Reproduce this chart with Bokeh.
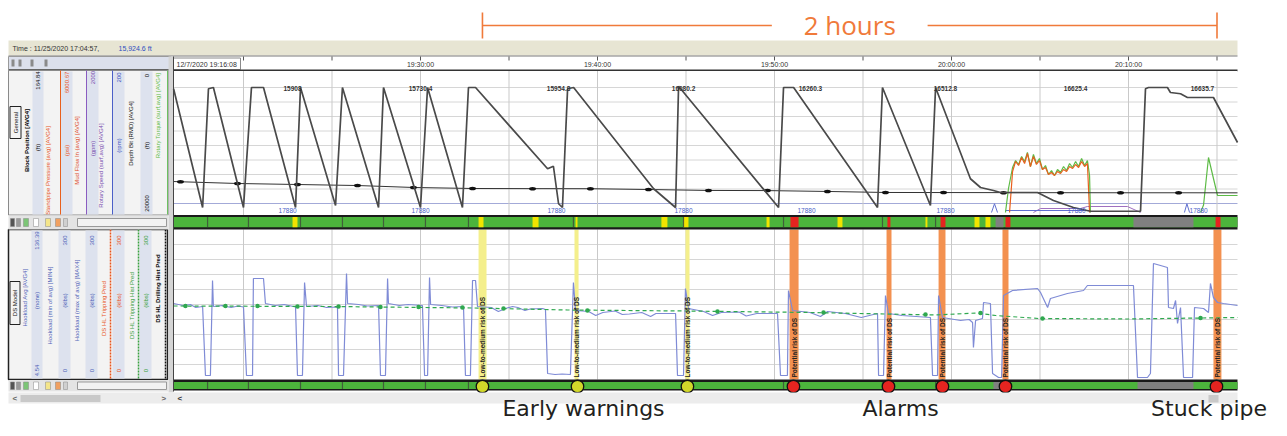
import math
from bokeh.plotting import figure
from bokeh.models import Range1d
from bokeh.core.properties import value
from bokeh.embed import file_html
from bokeh.resources import INLINE

NaN = float("nan")
FONT = "Liberation Sans"
LABEL_FONT = "DejaVu Sans"
SPAN_FONT = "Open Sans"

# ------------------------------------------------------------------ data
# time axis: minutes after 19:00 on 12/7/2020
time_label_minutes = [30, 40, 50, 60, 70]
time_label_text = ["19:30:00", "19:40:00", "19:50:00", "20:00:00", "20:10:00"]
start_time_label = "12/7/2020 19:16:08"
grid_minutes = [20, 25, 30, 35, 40, 45, 50, 55, 60, 65, 70, 75]

# block position (ft)
block_t = [16.05, 17.69, 18.02, 18.30, 20.00, 20.45, 21.13, 22.94, 23.22, 25.20, 25.59, 27.63,
           27.91, 30.00, 30.40, 32.37, 32.71, 33.11, 37.18, 37.51, 37.80, 38.02, 38.31, 38.65,
           43.17, 44.41, 44.58, 50.23, 50.51, 51.08, 55.82, 56.10, 58.81, 59.10, 61.07, 61.64,
           62.37, 62.77, 64.86, 65.76, 66.89, 67.85, 70.68, 70.96, 71.13, 72.20, 72.37, 72.94,
           73.33, 74.80, 76.16]
block_ft = [99, 4, 99, 100, 4, 100, 100, 4, 100, 5.6, 100, 4,
            100, 4, 100, 4, 100, 100, 35, 37, 7, 4, 99, 100,
            19, 4, 101, 4, 100, 100, 4, 100, 5.6, 100, 27, 20,
            17.6, 16, 16, 9.6, 4, 1, 1, 99, 100, 100, 96, 95,
            92, 92, 56]

# depth bit (ft)
bit_t = [16.05, 19.66, 23.05, 26.44, 29.60, 32.94, 36.33, 39.60, 42.88, 46.27, 49.60, 52.99,
         56.27, 59.55, 62.94, 66.16, 69.55, 72.83, 76.16]
bit_ft = [14970, 15240, 15380, 15520, 15790, 15930, 15950, 15960, 16070, 16200, 16220, 16340,
          16480, 16490, 16500, 16510, 16520, 16520, 16530]
bit_marker_t = [16.44, 19.66, 23.05, 26.44, 29.60, 32.94, 36.33, 39.60, 42.88, 46.27, 49.60,
                52.99, 56.27, 59.55, 62.94, 66.16, 69.55, 72.83]
bit_marker_ft = [14990, 15240, 15380, 15520, 15790, 15930, 15950, 15960, 16070, 16200, 16220,
                 16340, 16480, 16490, 16500, 16510, 16520, 16520]

# standpipe pressure (psi)
spp_t = [63.28, 63.45, 63.62, 63.79, 63.96, 64.13, 64.29, 64.46, 64.63, 64.80, 64.97, 65.14,
         65.31, 65.48, 65.65, 65.82, 65.99, 66.16, 66.33, 66.50, 66.67, 66.84, 67.01, 67.18,
         67.35, 67.52, 67.68, 67.80]
spp_psi = [0, 1640, 2040, 1880, 2200, 1960, 2360, 1840, 2240, 1920, 2080, 1720,
           1800, 1520, 1600, 1480, 1640, 1560, 1720, 1640, 1840, 1760, 1920, 1800,
           2040, 1840, 1960, 0]

# rotary torque (kft-lbf)
torque_t = [63.05, 63.22, 63.45, 63.62, 63.79, 63.96, 64.13, 64.29, 64.46, 64.63, 64.80, 64.97,
            65.14, 65.31, 65.48, 65.65, 65.82, 65.99, 66.16, 66.33, 66.50, 66.67, 66.84, 67.01,
            67.18, 67.35, 67.52, 67.68, 67.80, 67.85, NaN, 74.07, 74.24, 74.52, 74.80, 75.03, 76.16]
torque_k = [0, 9.6, 18.0, 20.8, 19.2, 22.4, 20.4, 24.0, 18.4, 23.2, 19.6, 21.6,
            17.2, 18.8, 15.2, 16.8, 14.8, 17.2, 16.0, 18.4, 16.8, 19.6, 18.0, 20.4,
            18.4, 21.6, 18.8, 20.8, 14.8, 0, NaN, 0, 3.0, 22.0, 13.6, 6.8, 6.8]

# rotary speed (rpm)
rpm_t = [64.63, 65.03, 67.29, 67.68, 69.94, 70.68]
rpm_v = [0, 6.4, 6.4, 9.6, 9.6, 0]

# mud flow out trace (blue)
flow_t = [62.26, 62.43, 62.60, NaN, 63.05, 67.85, NaN, 73.16, 73.30, 73.45]
flow_v = [0, 14, 0, NaN, 3.2, 3.2, NaN, 0, 14, 0]

# hookload average (klbs)
hook_t = [16.05, 16.6, 17.0, 17.3, 17.69, 17.85, 18.13, 18.25, 18.30, 18.8, 19.3, 19.7,
          20.00, 20.17, 20.51, 20.56, 21.13, 21.24, 21.8, 22.3, 22.94, 23.05, 23.33, 23.45,
          23.56, 24.2, 24.7, 25.31, 25.37, 25.65, 25.82, 25.88, 26.5, 27.0, 27.63, 27.74,
          28.02, 28.14, 28.19, 28.8, 29.3, 30.11, 30.23, 30.40, 30.51, 30.57, 31.2, 31.8,
          32.43, 32.54, 32.82, 32.94, 33.11, 33.22, 34.0, 34.4, 34.8, 35.2, 35.5, 35.9,
          36.2, 36.9, 37.06, 37.18, 37.6, 38.0, 38.47, 38.64, 38.76, 39.5, 39.9, 40.3,
          41.0, 41.4, 41.8, 42.5, 43.0, 43.3, 44.41, 44.52, 44.86, 44.97, 45.14, 46.0,
          46.5, 47.0, 48.0, 48.4, 49.0, 50.17, 50.34, 50.73, 50.79, 51.02, 52.0, 52.6,
          53.0, 54.0, 54.9, 55.82, 55.88, 56.16, 56.27, 56.44, 57.2, 58.0, 58.81, 58.93,
          59.21, 59.27, 59.49, 60.51, 61.0, 61.19, 61.24, 61.36, 61.75, 61.81, 62.20, 62.32,
          62.66, 62.83, 62.94, 63.45, 64.86, 65.03, 65.43, 65.59, 66.55, 67.46, 67.68, 70.28,
          70.51, 71.07, 71.24, 71.41, 71.81, 72.20, 72.26, 72.54, 72.66, 72.77, 72.94, 73.11,
          73.62, 73.73, 74.24, 74.52, 74.63, 74.80, 75.03, 75.37, 76.16]
hook_klbs = [152, 148, 150, 144, 146, 8, 8, 198, 146, 148, 144, 147,
             145, 8, 8, 202, 202, 152, 148, 150, 145, 8, 8, 194,
             146, 148, 144, 145, 8, 8, 212, 152, 150, 147, 148, 8,
             8, 202, 152, 148, 150, 148, 8, 8, 204, 150, 148, 145,
             146, 8, 8, 198, 198, 146, 144, 136, 142, 146, 144, 138,
             141, 142, 140, 12, 10, 11, 10, 194, 138, 136, 128, 134,
             137, 130, 131, 134, 126, 132, 132, 8, 8, 182, 142, 136,
             128, 134, 135, 127, 132, 132, 8, 8, 178, 138, 134, 126,
             136, 132, 124, 132, 8, 8, 168, 132, 128, 126, 124, 8,
             8, 168, 124, 118, 120, 114, 64, 118, 122, 154, 152, 12,
             4, 4, 168, 178, 182, 174, 144, 162, 172, 178, 188, 188,
             4, 4, 12, 232, 228, 224, 144, 142, 158, 112, 144, 4,
             4, 144, 142, 134, 192, 164, 154, 152, 148]

# DS model hookload prediction (klbs)
pred_t = [16.05, 25.0, 33.0, 38.3, 45.0, 52.0, 59.1, 61.4, 62.5, 64.9, 70.0, 76.16]
pred_klbs = [147, 146, 143, 139, 137, 134, 129, 133, 128, 122, 121, 124]
pred_marker_t = [16.72, 18.98, 20.79, 23.05, 25.37, 27.74, 29.89, 32.37, 34.69, 39.43, 46.78,
                 52.77, 58.53, 61.64, 65.14, 74.07]
pred_marker_klbs = [147, 147, 147, 146, 146, 145, 145, 144, 142, 138, 136, 134, 130, 133, 122, 123]

# depth annotations
depth_label_t = [22.77, 30.00, 37.80, 44.86, 52.03, 59.66, 67.01, 74.18]
depth_label_text = ["15908", "15730.4", "15954.8", "16080.2", "16260.3", "16512.8", "16625.4", "16635.7"]
tvd_label_t = [22.49, 30.00, 37.68, 44.86, 51.81, 59.66, 67.06, 73.96]
tvd_label_text = ["17880"] * 8

# status bars
status_start = [22.77, 33.28, 36.33, 38.76, 43.61, 44.86, 49.55, 50.90, 53.56, 56.38, 58.53,
                59.38, 61.30, 61.92, 62.49, 63.05, 70.28, 74.92]
status_end = [23.05, 33.56, 36.67, 38.87, 43.95, 45.14, 49.72, 51.36, 53.84, 56.55, 58.64,
              59.66, 61.58, 62.20, 62.94, 63.33, 73.67, 75.20]
status_level = ["warn", "warn", "warn", "warn", "warn", "warn", "warn", "alarm", "warn", "alarm",
                "warn", "alarm", "warn", "warn", "idle", "alarm", "idle", "alarm"]
status2_start = [62.37, 70.51]
status2_end = [62.88, 73.67]
event_t = [17.97, 20.28, 23.22, 25.59, 27.91, 30.28, 32.71, 38.64, 44.86, 50.51, 56.10, 59.10]

# DS risk events
warn_start = [33.28, 38.70, 44.97]
warn_end = [33.73, 38.93, 45.20]
alarm_start = [50.85, 56.33, 59.27, 62.88, 74.80]
alarm_end = [51.36, 56.61, 59.66, 63.22, 75.25]
warn_mark_t = [33.50, 38.87, 45.08]
alarm_mark_t = [51.07, 56.44, 59.49, 63.05, 74.97]
warn_text = "Low-to-medium risk of DS"
alarm_text = "Potential risk of DS"

# annotation
span_start_t, span_end_t = 33.50, 75.00
span_label = "2 hours"
group_labels = ["Early warnings", "Alarms", "Stuck pipe"]
group_label_t = [39.21, 57.12, 74.55]

# ------------------------------------------------------------------ figure
W, H = 1271, 420
PX0, PX1 = 0, 1271
PY_TOP, PY_BOT = 0, 420


def span(v_a, p_a, v_b, p_b, lo, hi):
    s = (v_b - v_a) / (p_b - p_a)
    return Range1d(start=v_a + (lo - p_a) * s, end=v_a + (hi - p_a) * s)


p = figure(width=W, height=H, output_backend="svg", toolbar_location=None,
           x_range=Range1d(PX0, PX1), y_range=Range1d(PY_BOT, PY_TOP),
           x_axis_type=None, y_axis_type=None, min_border=0,
           outline_line_color=None, background_fill_color="white",
           border_fill_color="white")
p.grid.visible = False
p.extra_x_ranges = {"t": span(30, 420, 40, 597, PX0, PX1)}
p.extra_y_ranges = {
    "bp": span(0, 212, 100, 87, PY_BOT, PY_TOP),
    "depth": span(0, 72.5, 20000, 217.5, PY_BOT, PY_TOP),
    "psi": span(0, 212, 5000, 87, PY_BOT, PY_TOP),
    "tq": span(0, 212, 50, 87, PY_BOT, PY_TOP),
    "rpm": span(0, 212, 200, 87, PY_BOT, PY_TOP),
    "hl": span(0, 379, 300, 229, PY_BOT, PY_TOP),
}

PL, PR = 173, 1237  # plot area left/right (px)


def box(l, r, t, b, fill, line=None, lw=1, **kw):
    p.quad(left=[l], right=[r], top=[t], bottom=[b], fill_color=fill,
           line_color=line, line_width=lw, **kw)


def txt(x, y, s, size="7px", color="#333333", align="left", style="normal",
        angle=0, font=FONT, **kw):
    p.text(x=[x], y=[y], text=[s], text_font=value(font), text_font_size=size,
           text_color=color, text_align=align, text_baseline="middle",
           text_font_style=style, angle=angle, **kw)


# ---- top strip
box(8, PR, 40, 55, "#E7E5D3")
p.segment(x0=[8], y0=[55.5], x1=[PR], y1=[55.5], line_color="#7A7A7A", line_width=1)
txt(12, 47.5, "Time : 11/25/2020 17:04:57,", size="7px", color="#333333")
txt(118, 47.5, "15,924.6 ft", size="7px", color="#2F4FC0")

# ---- time header row
box(8, 170, 56, 69, "#DCE0EC", "#9A9A9A")
for xi in [11, 18, 30, 44]:
    box(xi, xi + 3, 59, 66, "#8A8A8A")
box(PL, PR, 57, 69.5, "white")
box(PL, 240, 57.5, 69, "white", "#8A8A8A")
p.segment(x0=[8], y0=[70], x1=[PR], y1=[70], line_color="#333333", line_width=2)
p.segment(x0=grid_minutes, y0=56, x1=grid_minutes, y1=60, x_range_name="t",
          line_color="#555555", line_width=1)
txt(176, 64, start_time_label, size="7px")
p.text(x=time_label_minutes, y=64, text=time_label_text, x_range_name="t",
       text_font=value(FONT), text_font_size="7px", text_color="#333333",
       text_align="center", text_baseline="middle")

# ---- left legend backgrounds
box(8, 168, 70, 214.5, "#F3F3F3", "#8A8A8A")
box(8, 167, 229, 379, "#F3F3F3", "#222222", 1.5)
for l, r in [(32, 43), (60, 72), (86, 98), (112, 124), (140, 152)]:
    box(l, r, 71, 214, "#DDE2EE")
for l, r in [(31, 42), (58, 70), (85, 97), (112, 124), (139, 151)]:
    box(l, r, 230, 378, "#DDE2EE")
p.segment(x0=[60, 86, 112, 167], y0=70, x1=[60, 86, 112, 167], y1=214,
          line_color=["#E8601E", "#8A5CC0", "#4A5FC8", "#6CC060"], line_width=1)
p.segment(x0=[110, 138, 165], y0=229, x1=[110, 138, 165], y1=378,
          line_color=["#E8541E", "#3AA040", "#111111"], line_width=1.5, line_dash="2 1")
box(168, PL, 56, 392, "#D5D5D5")

# legend texts (rotated)
up_x = [26, 47, 76, 100, 130, 157]
up_y = [140, 170, 150, 165, 133, 115]
up_text = ["Block Position [AVG4]", "Standpipe Pressure (avg) [AVG4]", "Mud Flow In (avg) [AVG4]",
           "Rotary Speed (surf,avg) [AVG4]", "Depth Bit (RMD) [AVG4]", "Rotary Torque (surf,avg) [AVG4]"]
up_col = ["#000000", "#E8541E", "#E04A2A", "#7A4FB0", "#111111", "#5DBB46"]
up_style = ["bold", "normal", "normal", "normal", "normal", "normal"]
p.text(x=up_x, y=up_y, text=up_text, text_color=up_col, text_font_style=up_style,
       angle=math.pi / 2, text_font=value(FONT), text_font_size="6px",
       text_align="center", text_baseline="middle")
uv_x = [37, 37, 66, 66, 92, 92, 118, 118, 146, 146, 146]
uv_y = [80, 147, 82, 150, 77, 148, 77, 145, 75, 145, 203]
uv_text = ["164.84", "(ft)", "6000.67", "(psi)", "2000", "(gpm)", "200", "(rpm)", "0", "(ft)", "20000"]
uv_col = ["#111111", "#111111", "#E8541E", "#E8541E", "#7A4FB0", "#7A4FB0", "#3A50C0", "#3A50C0",
          "#111111", "#111111", "#111111"]
p.text(x=uv_x, y=uv_y, text=uv_text, text_color=uv_col, angle=math.pi / 2,
       text_font=value(FONT), text_font_size="6px", text_align="center", text_baseline="middle")

lo_x = [24, 49, 76, 103, 131, 157]
lo_y = [297, 305, 300, 308, 305, 288]
lo_text = ["Hookload Avg [AVG4]", "Hookload (min of avg) [MIN4]", "Hookload (max of avg) [MAX4]",
           "DS HL Tripping Pred", "DS HL Tripping Hist Pred", "DS HL Drilling Hist Pred"]
lo_col = ["#4F62B8", "#4F62B8", "#4F62B8", "#E8541E", "#3AA040", "#000000"]
lo_style = ["normal", "normal", "normal", "normal", "normal", "bold"]
p.text(x=lo_x, y=lo_y, text=lo_text, text_color=lo_col, text_font_style=lo_style,
       angle=math.pi / 2, text_font=value(FONT), text_font_size="6px",
       text_align="center", text_baseline="middle")
lv_x, lv_y, lv_text, lv_col = [], [], [], []
for cx, col, top, unit, bot in [(36, "#4F62B8", "136.39", "(none)", "4.54"),
                                (64, "#4F62B8", "300", "(klbs)", "0"),
                                (91, "#4F62B8", "300", "(klbs)", "0"),
                                (118, "#E8541E", "300", "(klbs)", "0"),
                                (145, "#3AA040", "300", "(klbs)", "0")]:
    lv_x += [cx, cx, cx]
    lv_y += [240, 300, 370]
    lv_text += [top, unit, bot]
    lv_col += [col, col, col]
p.text(x=lv_x, y=lv_y, text=lv_text, text_color=lv_col, angle=math.pi / 2,
       text_font=value(FONT), text_font_size="6px", text_align="center", text_baseline="middle")

box(9.5, 20.5, 106, 138, "#F3F3F3", "#222222")
txt(15, 122, "General", size="6px", color="#111111", align="center", angle=math.pi / 2)
box(9.5, 19.5, 281, 324, "#F3F3F3", "#222222")
txt(14.5, 302.5, "DS Model", size="6px", color="#111111", align="center", angle=math.pi / 2)

# small icon rows
box(8, 168, 215, 229, "#E4E4E4")
box(8, 168, 379.5, 391, "#E4E4E4")
for (l, r, c) in [(10, 14, "#555555"), (16, 20, "#9A9A9A"), (23, 28, "#7CC576"), (33, 38, "#FFFFFF"),
                  (45, 50, "#F4E58A"), (55, 60, "#F0A060"), (63, 67, "#D0D0D0")]:
    box(l, r, 218, 226, c, "#888888", 0.5)
    box(l, r, 381.5, 389, c, "#888888", 0.5)
box(77, 166, 218, 226, "#F2F2F2", "#999999")
box(77, 166, 381.5, 389, "#F2F2F2", "#999999")

# ---- panels
box(PL, PR, 70.5, 214.5, "white")
box(PL, PR, 229, 379, "white")

# gridlines
up_grid = [2000, 4000, 6000, 8000, 10000, 12000, 14000, 16000, 18000]
p.segment(x0=PL, y0=up_grid, x1=PR, y1=up_grid, y_range_name="depth",
          line_color=["#D6D6D6"] * 8 + ["#A3AAD8"], line_width=1)
lo_grid = [30, 60, 90, 120, 150, 180, 210, 240, 270]
p.segment(x0=PL, y0=lo_grid, x1=PR, y1=lo_grid, y_range_name="hl",
          line_color="#D6D6D6", line_width=1)
p.segment(x0=grid_minutes, y0=70.5, x1=grid_minutes, y1=214.5, x_range_name="t",
          line_color="#C9C9C9", line_width=1)
p.segment(x0=grid_minutes, y0=229, x1=grid_minutes, y1=379, x_range_name="t",
          line_color="#C9C9C9", line_width=1)

# risk bands
p.quad(left=warn_start, right=warn_end, top=229, bottom=379, x_range_name="t",
       fill_color="#F4EF8C", line_color=None)
p.quad(left=alarm_start, right=alarm_end, top=229, bottom=379, x_range_name="t",
       fill_color="#F39150", line_color=None)

# upper panel traces
p.line(rpm_t, rpm_v, x_range_name="t", y_range_name="rpm", line_color="#A070C0", line_width=1)
p.line(flow_t, flow_v, x_range_name="t", y_range_name="rpm", line_color="#6070D0", line_width=1)
p.line(torque_t, torque_k, x_range_name="t", y_range_name="tq", line_color="#5DBB46", line_width=1.2)
p.line(spp_t, spp_psi, x_range_name="t", y_range_name="psi", line_color="#E8601E", line_width=1.2)
p.line(bit_t, bit_ft, x_range_name="t", y_range_name="depth", line_color="#333333", line_width=1)
p.ellipse(x=bit_marker_t, y=bit_marker_ft, width=7, height=3.5, width_units="screen",
          height_units="screen", x_range_name="t", y_range_name="depth",
          fill_color="#111111", line_color=None)
p.line(block_t, block_ft, x_range_name="t", y_range_name="bp", line_color="#4A4A4A", line_width=1.7)
p.text(x=depth_label_t, y=88, text=depth_label_text, x_range_name="t",
       text_font=value(FONT), text_font_size="6.5px", text_font_style="bold",
       text_color="#333333", text_align="center", text_baseline="middle")
p.text(x=tvd_label_t, y=210, text=tvd_label_text, x_range_name="t",
       text_font=value(FONT), text_font_size="6.5px", text_color="#4A5FC8",
       text_align="center", text_baseline="middle")

# lower panel traces
p.line(hook_t, hook_klbs, x_range_name="t", y_range_name="hl", line_color="#7F8BD6", line_width=1.2)
p.line(pred_t, pred_klbs, x_range_name="t", y_range_name="hl", line_color="#2FA84F",
       line_width=1.2, line_dash="4 3")
p.scatter(x=pred_marker_t, y=pred_marker_klbs, x_range_name="t", y_range_name="hl",
          size=4.5, fill_color="#2FA84F", line_color=None)

band_mid_w = [(a + b) / 2 for a, b in zip(warn_start, warn_end)]
band_mid_a = [(a + b) / 2 for a, b in zip(alarm_start, alarm_end)]
p.text(x=band_mid_w, y=377, text=[warn_text] * len(band_mid_w), x_range_name="t",
       angle=math.pi / 2, text_font=value(FONT), text_font_size="6.5px",
       text_font_style="bold", text_color="#222222", text_align="left", text_baseline="middle")
p.text(x=band_mid_a, y=377, text=[alarm_text] * len(band_mid_a), x_range_name="t",
       angle=math.pi / 2, text_font=value(FONT), text_font_size="6.5px",
       text_font_style="bold", text_color="#222222", text_align="left", text_baseline="middle")

# status bars
LEVEL_COLORS = {"warn": "#F2E400", "alarm": "#E52420", "idle": "#808080"}
box(PL, PR, 214.5, 229, "#1A1A1A")
box(PL, PR, 216.5, 226.8, "#4CB43C")
p.quad(left=status_start, right=status_end, top=216.5, bottom=226.8, x_range_name="t",
       fill_color=[LEVEL_COLORS[s] for s in status_level], line_color=None)
p.segment(x0=event_t, y0=216.5, x1=event_t, y1=226.8, x_range_name="t",
          line_color="#3D4A3A", line_width=1.2, line_alpha=0.8)

box(PL, PR, 379, 390, "#1A1A1A")
box(PL, PR, 381.5, 388.5, "#4CB43C")
p.quad(left=status2_start, right=status2_end, top=381.5, bottom=388.5, x_range_name="t",
       fill_color="#808080", line_color=None)
p.segment(x0=event_t, y0=381.5, x1=event_t, y1=388.5, x_range_name="t",
          line_color="#3D4A3A", line_width=1.2, line_alpha=0.8)
p.scatter(x=warn_mark_t, y=386, x_range_name="t", size=12.5, fill_color="#D2D82A",
          line_color="#111111", line_width=1.3)
p.scatter(x=alarm_mark_t, y=386, x_range_name="t", size=12.5, fill_color="#E52420",
          line_color="#111111", line_width=1.3)

# plot area border
p.segment(x0=[PL], y0=[56], x1=[PL], y1=[391], line_color="#444444", line_width=1)

# scroll bar row
box(8, PR, 392, 403, "#ECECEC")
box(20, 100, 394.5, 401.5, "#C9C9C9")
box(1208, 1218, 394.5, 402, "#C9C9C9")
txt(12, 398, "<", size="8px", color="#666666", style="bold")
txt(161, 398, ">", size="8px", color="#666666", style="bold")
txt(177, 398, "<", size="8px", color="#333333", style="bold")

# ---- annotations
ORANGE = "#F07A3A"
span_mid = (span_start_t + span_end_t) / 2 + 0.0
gap = 4.4
p.segment(x0=[span_start_t, span_mid + gap], y0=25, x1=[span_mid - gap, span_end_t], y1=25,
          x_range_name="t", line_color=ORANGE, line_width=1.6)
p.segment(x0=[span_start_t, span_end_t], y0=12, x1=[span_start_t, span_end_t], y1=38,
          x_range_name="t", line_color=ORANGE, line_width=1.6)
p.text(x=[span_mid], y=24, text=[span_label], x_range_name="t", text_font=value(SPAN_FONT),
       text_font_size="26px", text_color=ORANGE, text_align="center", text_baseline="middle")
p.text(x=group_label_t, y=408, text=group_labels, x_range_name="t", text_font=value(LABEL_FONT),
       text_font_size="22px", text_color="#231F20", text_align="center", text_baseline="middle")

open("out.html", "w").write(file_html(p, INLINE))
